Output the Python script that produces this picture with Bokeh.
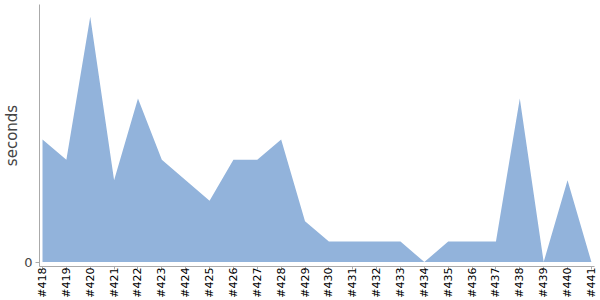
from bokeh.plotting import figure
from bokeh.models import FixedTicker, Range1d
from bokeh.embed import file_html
from bokeh.resources import INLINE

builds = ["#418", "#419", "#420", "#421", "#422", "#423", "#424", "#425",
          "#426", "#427", "#428", "#429", "#430", "#431", "#432", "#433",
          "#434", "#435", "#436", "#437", "#438", "#439", "#440", "#441"]
seconds = [6, 5, 12, 4, 8, 5, 4, 3, 5, 5, 6, 2, 1, 1, 1, 1, 0, 1, 1, 1, 8, 0, 4, 0]

xs = list(range(len(builds)))

p = figure(width=600, height=300, output_backend="svg", toolbar_location=None,
           x_range=Range1d(-0.126, len(builds) - 1 + 0.13),
           y_range=Range1d(-0.22, 12.6),
           min_border_left=0, min_border_right=6, min_border_top=4,
           min_border_bottom=0)
p.outline_line_color = None
p.xgrid.visible = False
p.ygrid.visible = False
p.background_fill_color = "white"

p.varea(x=xs, y1=[0] * len(xs), y2=seconds, fill_color="#92B3DB", fill_alpha=1.0)

# y axis
p.yaxis.ticker = FixedTicker(ticks=[0])
p.yaxis.minor_tick_line_color = None
p.yaxis.axis_line_color = "#aaaaaa"
p.yaxis.major_tick_line_color = "#aaaaaa"
p.yaxis.major_tick_out = 4
p.yaxis.major_tick_in = 0
p.yaxis.major_label_text_font = "DejaVu Sans"
p.yaxis.major_label_text_font_size = "13px"
p.yaxis.major_label_text_color = "#444444"
p.yaxis.major_label_standoff = 3
p.yaxis.axis_label = "seconds"
p.yaxis.axis_label_text_font = "DejaVu Sans"
p.yaxis.axis_label_text_font_size = "15px"
p.yaxis.axis_label_text_font_style = "normal"
p.yaxis.axis_label_text_color = "#444444"
p.yaxis.axis_label_standoff = 0

# x axis
p.xaxis.ticker = FixedTicker(ticks=xs)
p.xaxis.major_label_overrides = {i: b for i, b in enumerate(builds)}
p.xaxis.major_label_orientation = 1.5707963
p.xaxis.minor_tick_line_color = None
p.xaxis.axis_line_color = "#aaaaaa"
p.xaxis.major_tick_line_color = "#aaaaaa"
p.xaxis.major_tick_out = 3
p.xaxis.major_tick_in = 0
p.xaxis.major_label_text_font = "DejaVu Sans"
p.xaxis.major_label_text_font_size = "11px"
p.xaxis.major_label_text_color = "#000000"
p.xaxis.major_label_standoff = -2

open("out.html", "w").write(file_html(p, INLINE))
